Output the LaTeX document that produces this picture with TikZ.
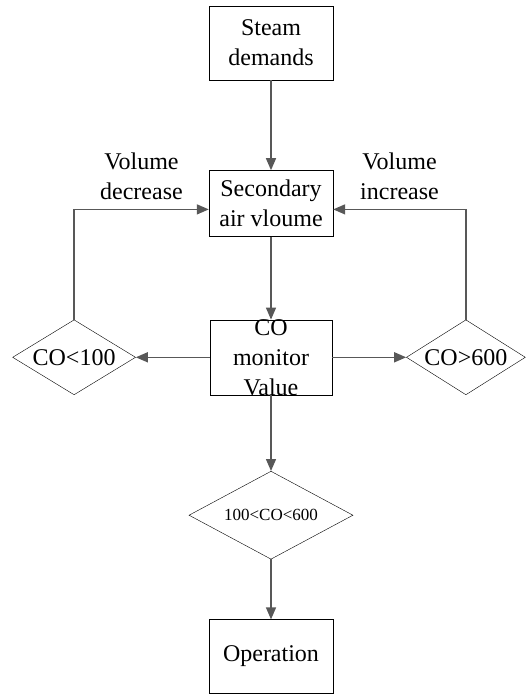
\documentclass[tikz,border=0pt]{standalone}
\usepackage{fontspec}
\setmainfont{Liberation Serif}
\usetikzlibrary{positioning,shapes.geometric,arrows.meta}
\definecolor{flowgray}{RGB}{88,88,88}
\tikzstyle{block}=[draw,rectangle,thin,minimum width=124pt,inner sep=2pt,align=center]
\tikzstyle{test}=[draw,diamond,thin,inner sep=0pt]
\tikzstyle{flow}=[->,draw=flowgray,line width=1.4pt]
\newcommand{\addBlock}[4]{\node[block,#3](#1)[#4]{#2};}
\newcommand{\addTest}[4]{\node[test,label={[align=center]center:#2},#3](#1)[#4]{};}
\newcommand{\addFlow}[3]{\path[flow] (#1) #3 (#2);}

\begin{document}
\begin{tikzpicture}[node distance=80pt and 74pt,
    >={Triangle[length=12pt,width=10pt]},
    font=\fontsize{24}{30}\selectfont
    ]
    \useasboundingbox (0,0) rectangle (531pt,-694pt);
    \addBlock{steam}{Steam\\demands}{minimum height=74pt}{at={(271pt,-43pt)}}
    \addBlock{sec}{Secondary\\air vloume}{minimum height=66pt}{below=90pt of steam}
    \addTest{co}{CO\\monitor\\Value}{shape=rectangle,minimum width=122pt,minimum height=75pt}{below=83pt of sec}
    \addTest{lo}{CO<100}{minimum width=123pt,minimum height=75pt}{left=74pt of co}
    \addTest{hi}{CO>600}{minimum width=119pt,minimum height=75pt}{right=74pt of co}
    \addTest{mid}{\fontsize{17}{20}\selectfont 100<CO<600}{minimum width=164pt,minimum height=88pt}{below=76pt of co}
    \addBlock{op}{Operation}{minimum height=74pt}{below=60pt of mid}
    \addFlow{steam}{sec}{--}
    \addFlow{sec}{co}{--}
    \addFlow{co}{lo}{--}
    \addFlow{co}{hi}{--}
    \addFlow{co}{mid}{--}
    \addFlow{mid}{op}{--}
    \addFlow{lo.north}{[yshift=-6pt]sec.west}{|- node[pos=0.75,above=6pt,align=center] {Volume\\decrease}}
    \addFlow{hi.north}{[yshift=-6pt]sec.east}{|- node[pos=0.75,above=6pt,align=center] {Volume\\increase}}
  \end{tikzpicture}
\end{document}
